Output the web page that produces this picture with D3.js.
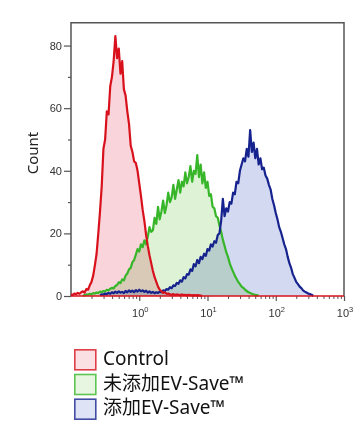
<!DOCTYPE html>
<html lang="zh">
<head>
<meta charset="utf-8">
<script src="https://cdnjs.cloudflare.com/ajax/libs/d3/7.8.5/d3.min.js"></script>
<style>
body { margin: 0; background: #fff; }
text { font-family: "Noto Sans", "Noto Sans CJK SC", sans-serif; }
</style>
</head>
<body>
<script>
var w = 361, h = 432;

// histogram bins, log10 step of the channel axis
var logStep = 0.025;
var seriesNames = ["Control", "未添加EV-Save™", "添加EV-Save™"];

var controlStart = -1.0;
var controlCounts = [0.5, 0.3, 0.8, 0.6, 1.0, 0.7, 1.2, 1.5, 1.1, 2.2,
  2.0, 3.4, 4.5, 6.5, 9.8, 13.5, 20, 27, 35, 47,
  50, 59, 58, 67, 70, 75, 83, 76, 79, 71,
  75, 66, 64, 59, 55, 48, 46, 43, 42.5, 40,
  36, 32, 27.5, 24, 19.5, 16, 13, 10.5, 8, 6,
  4.5, 3, 2, 1.5, 1.0, 1.2, 0.7, 0.8, 0.5, 0.4,
  0.6, 0.3, 0.5, 0.4, 0.3, 0.5, 0.3, 0.4, 0.2, 0.4,
  0.3, 0.2, 0.3, 0.2, 0.3, 0.2, 0.1, 0];

var withoutStart = -0.825;
var withoutCounts = [0, 0.3, 0.5, 0.4, 0.7, 0.6, 0.9, 0.8, 1.1, 1.0,
  1.4, 1.2, 1.6, 1.5, 2.0, 1.8, 2.3, 2.6, 2.4, 3.2,
  3.5, 4.4, 4.1, 5.3, 5.0, 6.5, 7.2, 8.5, 9.0, 10.8,
  11.5, 13.2, 15.0, 14.2, 16.5, 15.6, 17.8, 16.5, 19, 22,
  20.5, 21, 25, 23, 28.5, 24.5, 27, 30.5, 26.5, 29,
  33, 30, 31.5, 35.5, 31, 34, 37, 33, 36.5, 35,
  39.5, 36, 38, 41.5, 36.5, 40, 39, 45, 38, 42,
  36, 39.5, 34.5, 36.5, 32, 32.5, 28.5, 28, 25.5, 25,
  22.5, 20.5, 18, 16, 14, 12.5, 10.5, 9, 7.8, 6.5,
  5.5, 4.5, 3.8, 3, 2.6, 2, 1.6, 1.2, 1.0, 0.7,
  0.5, 0.4, 0.3, 0];

var withStart = -0.575;
var withCounts = [0.3, 0.5, 0.4, 0.8, 0.6, 1.0, 0.7, 1.2, 0.9, 1.4,
  1.0, 1.5, 1.1, 1.3, 0.9, 1.6, 1.2, 1.8, 1.3, 1.7,
  1.2, 1.9, 1.4, 2.0, 1.5, 1.8, 1.3, 1.7, 1.1, 1.5,
  1.0, 1.3, 0.9, 1.2, 1.0, 1.4, 1.2, 1.8, 1.6, 2.2,
  2.0, 2.8, 2.5, 3.4, 3.2, 4.2, 3.9, 5.0, 4.6, 6.0,
  5.6, 7.0, 6.8, 8.5, 8.0, 10.2, 9.5, 11.5, 10.5, 12.5,
  11.8, 13.5, 12.8, 15, 14.5, 16.5, 15.8, 17.5, 17, 19.5,
  20, 24, 31, 25.5, 28, 27, 30, 29.5, 33, 32.5,
  36.5, 36, 40, 42, 44, 43, 47, 44.5, 53, 46,
  49, 44, 47, 42, 44, 40.5, 41, 38.5, 37.5, 35.5,
  34, 31, 29, 26.5, 24.5, 22, 20.5, 18.5, 16.5, 15,
  12.5, 10.5, 9, 7, 5.8, 4.5, 3.8, 3, 2.5, 1.8,
  1.4, 1.1, 0.8, 0.6, 0.4, 0];

var yTicks = [0, 20, 40, 60, 80];
var yMinorTicks = [10, 30, 50, 70];
var xTicks = [1, 10, 100, 1000];
var xTickExp = ["0", "1", "2", "3"];

var lineColors = ["#d8111d", "#38b62a", "#16238e"];
var fillColors = ["#f7c9d1", "#d6f0cc", "#c8d0ee"];

var svg = d3.select("body").append("svg")
  .attr("width", w)
  .attr("height", h);

var x = d3.scaleLog().domain([0.1, 1000]).range([71, 344]);
var y = d3.scaleLinear().domain([0, 87.3]).range([296, 22.7]);

function toPoints(start, counts) {
  return counts.map(function(c, i) {
    return { v: Math.pow(10, start + i * logStep), c: c };
  });
}
var series = [
  toPoints(controlStart, controlCounts),
  toPoints(withoutStart, withoutCounts),
  toPoints(withStart, withCounts)
];

var area = d3.area()
  .x(function(d) { return x(d.v); })
  .y0(y(0))
  .y1(function(d) { return y(d.c); });
var line = d3.line()
  .x(function(d) { return x(d.v); })
  .y(function(d) { return y(d.c); });

// fills first, then outlines
svg.selectAll("path.fill")
  .data(series)
  .enter()
  .append("path")
  .attr("class", "fill")
  .attr("d", area)
  .attr("fill", function(d, i) { return fillColors[i]; })
  .attr("fill-opacity", 0.8)
  .style("mix-blend-mode", "multiply");

// frame (top, left, right)
svg.append("path")
  .attr("d", "M" + x(0.1) + "," + y(0) + "V" + y(87.3) + "H" + x(1000) + "V" + y(0))
  .attr("fill", "none")
  .attr("stroke", "#555")
  .attr("stroke-width", 1.5);

[1, 2, 0].forEach(function(k) {
  svg.append("path")
    .datum(series[k])
    .attr("d", line)
    .attr("fill", "none")
    .attr("stroke", lineColors[k])
    .attr("stroke-width", 2.2)
    .attr("stroke-linejoin", "round");
});

// y axis
var yAxis = svg.append("g")
  .attr("transform", "translate(" + x(0.1) + ",0)")
  .call(d3.axisLeft(y).tickValues(yTicks).tickSize(7).tickPadding(2));
yAxis.select(".domain").remove();
yAxis.selectAll("line").attr("stroke", "#555").attr("stroke-width", 1.2);
yAxis.selectAll("text").attr("font-size", 11).attr("fill", "#333")
  .style("font-family", "'Liberation Sans', Arial, sans-serif");

var yMinor = svg.append("g")
  .attr("transform", "translate(" + x(0.1) + ",0)")
  .call(d3.axisLeft(y).tickValues(yMinorTicks).tickSize(3).tickFormat(""));
yMinor.select(".domain").remove();
yMinor.selectAll("line").attr("stroke", "#555").attr("stroke-width", 1.2);

// x axis
var minorX = [];
for (var e = -1; e < 3; e++) {
  for (var m = 2; m < 10; m++) minorX.push(m * Math.pow(10, e));
}
var xMinor = svg.append("g")
  .attr("transform", "translate(0," + y(0) + ")")
  .call(d3.axisBottom(x).tickValues(minorX).tickSize(3).tickFormat(""));
xMinor.select(".domain").remove();
xMinor.selectAll("line").attr("stroke", "#555").attr("stroke-width", 1);

var xAxis = svg.append("g")
  .attr("transform", "translate(0," + y(0) + ")")
  .call(d3.axisBottom(x).tickValues(xTicks).tickSize(5).tickFormat(""));
xAxis.select(".domain").remove();
xAxis.selectAll("line").attr("stroke", "#555").attr("stroke-width", 1.2);

var xLabels = svg.selectAll("text.xlab")
  .data(xTicks)
  .enter()
  .append("text")
  .attr("class", "xlab")
  .attr("x", function(d) { return x(d) + 1; })
  .attr("y", 317)
  .attr("text-anchor", "middle")
  .attr("font-size", 11)
  .attr("fill", "#333")
  .style("font-family", "'Liberation Sans', Arial, sans-serif");
xLabels.append("tspan").text("10");
xLabels.append("tspan")
  .attr("dy", -5)
  .attr("font-size", 7.5)
  .text(function(d, i) { return xTickExp[i]; });

// baseline drawn in the control colour, as in the original
svg.append("line")
  .attr("x1", x(0.1)).attr("x2", x(1000))
  .attr("y1", y(0)).attr("y2", y(0))
  .attr("stroke", lineColors[0])
  .attr("stroke-width", 1.6);

svg.append("text")
  .attr("transform", "translate(38,153) rotate(-90)")
  .attr("text-anchor", "middle")
  .attr("font-size", 15)
  .attr("fill", "#222")
  .text("Count");

// legend
var legend = svg.selectAll("g.legend")
  .data(seriesNames)
  .enter()
  .append("g")
  .attr("class", "legend")
  .attr("transform", function(d, i) { return "translate(74," + (349 + i * 24.7) + ")"; });
legend.append("rect")
  .attr("x", 0.8).attr("y", 0.8)
  .attr("width", 21).attr("height", 20)
  .attr("fill", function(d, i) { return fillColors[i]; })
  .attr("fill-opacity", 0.6)
  .attr("stroke", function(d, i) { return lineColors[i]; })
  .attr("stroke-width", 1.6)
  .attr("stroke-opacity", 0.8);
legend.append("text")
  .attr("x", 29)
  .attr("y", 16)
  .attr("font-size", 19)
  .attr("fill", "#111")
  .text(function(d) { return d; });
</script>
</body>
</html>
